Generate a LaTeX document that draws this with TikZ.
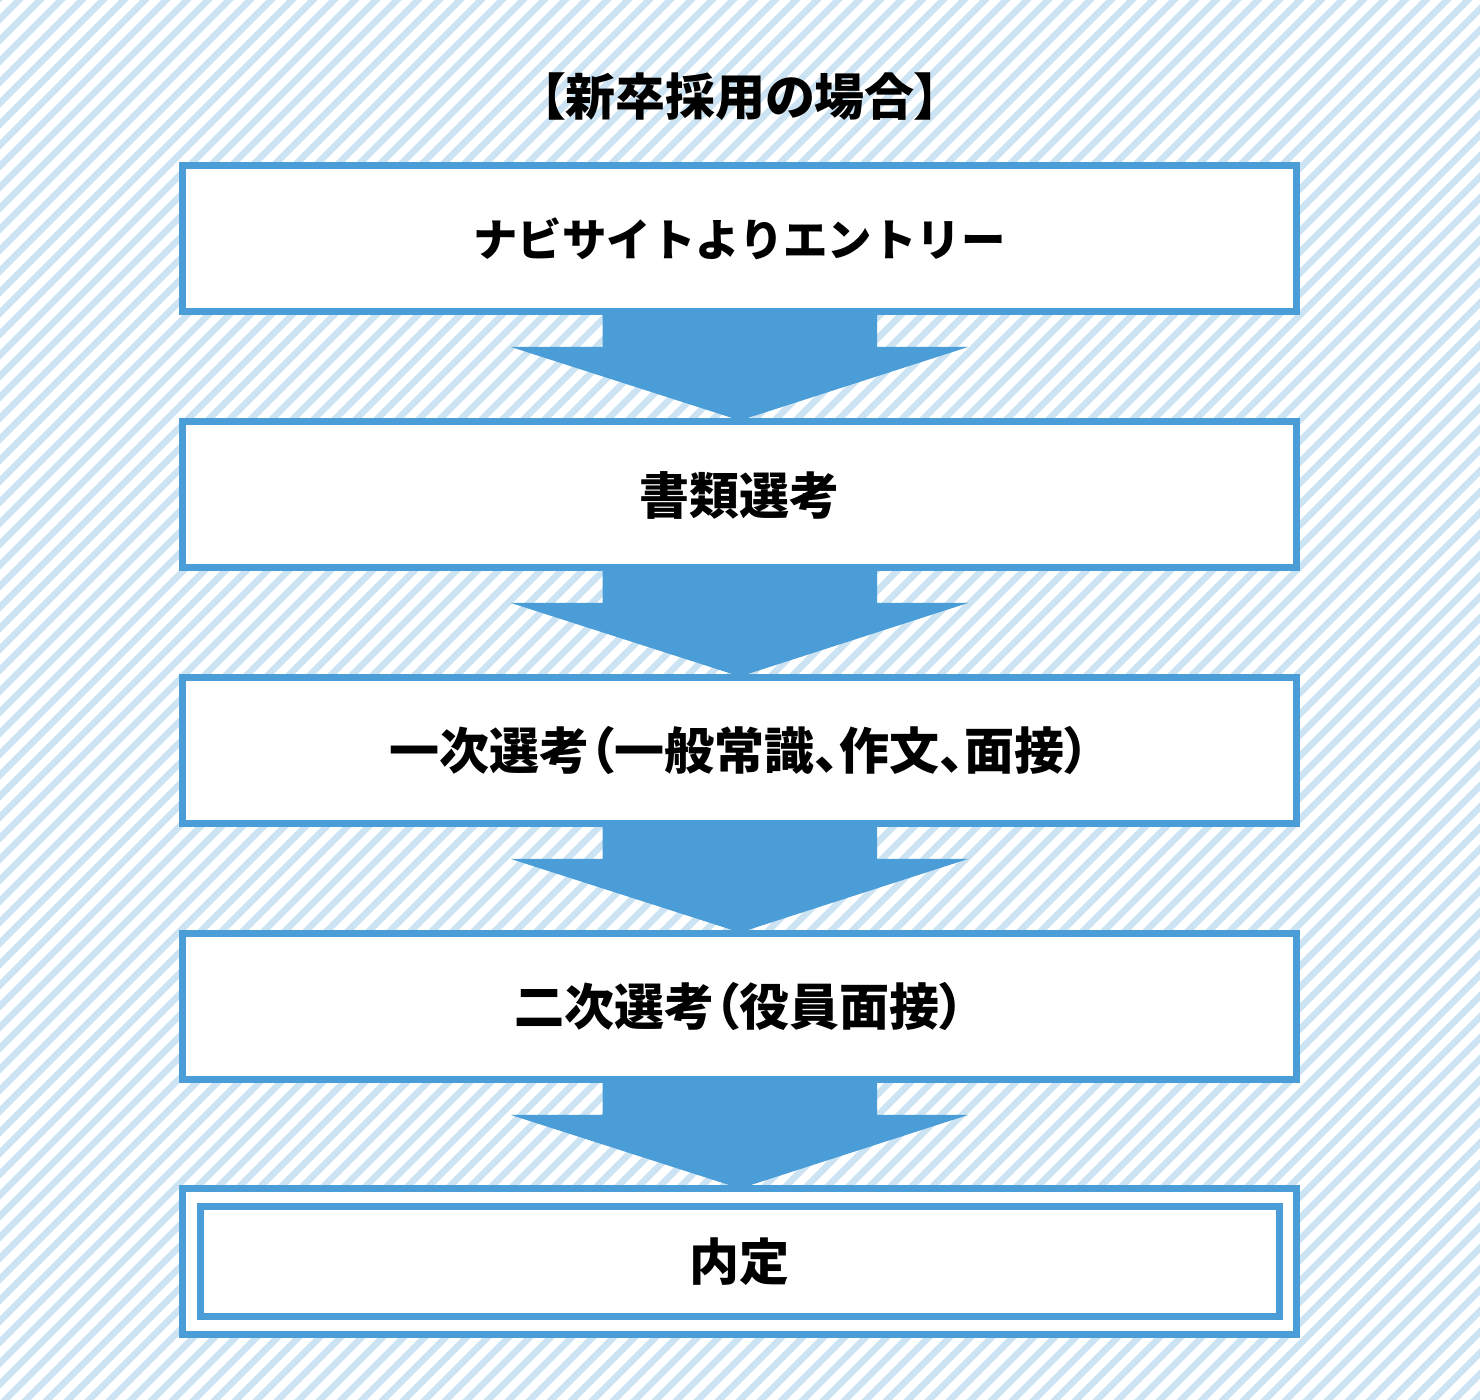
\documentclass[tikz,border=0pt]{standalone}
\usepackage{fontspec}
\newfontfamily\cjk{Noto Sans CJK JP}
\newfontfamily\cjkp{Noto Sans CJK JP}[RawFeature=+palt]
\usetikzlibrary{calc}
\definecolor{stripeblue}{RGB}{203,227,242}
\definecolor{boxblue}{RGB}{74,157,214}
\tikzset{
  stepbox/.style={draw=boxblue, line width=3.5pt, fill=white, minimum width=557pt, minimum height=73pt, inner sep=0pt,
    font=\cjkp\bfseries\fontsize{25pt}{29pt}\selectfont},
  katabox/.style={stepbox, font=\cjk\bfseries\fontsize{22.2pt}{26pt}\selectfont},
  innerbox/.style={draw=boxblue, line width=3.5pt, fill=white, minimum width=539.5pt, minimum height=55pt, inner sep=0pt,
    font=\cjkp\bfseries\fontsize{25pt}{29pt}\selectfont},
  titletext/.style={font=\cjkp\bfseries\fontsize{25pt}{29pt}\selectfont, inner sep=0pt},
  stripe/.style={draw=stripeblue, line width=3.2pt},
  flowarrow/.style={fill=boxblue, draw=none}
}
\begin{document}
\begin{tikzpicture}[x=0.5pt,y=-0.5pt]
\useasboundingbox (0,0) rectangle (1480,1400);
\begin{scope}
  \clip (0,0) rectangle (1480,1400);
  \fill[white] (0,0) rectangle (1480,1400);
  \foreach \k in {8,29,...,2900} {
    \draw[stripe] (\k,-10) -- ({\k-1420},1410);
  }
\end{scope}

\node[titletext] (title) at (740,97) {【新卒採用の場合】};

% arrows first (behind boxes)
\coordinate (s1) at (739.5,310.5);
\coordinate (s2) at (739.5,566.5);
\coordinate (s3) at (739.5,822.5);
\coordinate (s4) at (739.5,1078.5);
\foreach \i in {1,2,3,4} {
  \fill[flowarrow] ($(s\i)+(-137,0)$) -- ($(s\i)+(-137,36.5)$) -- ($(s\i)+(-228.5,36.5)$)
    -- ($(s\i)+(0.5,110)$) -- ($(s\i)+(228.5,36.5)$) -- ($(s\i)+(137.5,36.5)$) -- ($(s\i)+(137.5,0)$) -- cycle;
}

\node[katabox] (b1) at (739.5,238.5) {ナビサイトよりエントリー};
\node[stepbox] (b2) at (739.5,495) {書類選考};
\node[stepbox] (b3) at (739.5,751) {一次選考（一般常識、作文、面接）};
\node[stepbox] (b4) at (739.5,1007) {二次選考（役員面接）};
\node[stepbox] (b5) at (739.5,1261.5) {};
\node[innerbox] (b5i) at (b5.center) {内定};
\end{tikzpicture}
\end{document}
